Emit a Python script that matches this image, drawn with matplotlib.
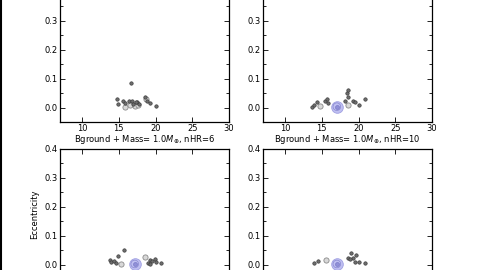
import matplotlib
matplotlib.use("Agg")
import matplotlib.pyplot as plt
from matplotlib.ticker import MultipleLocator
from matplotlib.lines import Line2D

# ---- data (x position, eccentricity) ----
tl_x = [14.7, 14.9, 15.6, 16.35, 16.6, 16.75, 16.95, 17.5, 17.8, 18.6, 18.9, 19.3, 20.0, 15.9, 17.3]
tl_e = [0.030, 0.013, 0.024, 0.021, 0.085, 0.022, 0.012, 0.018, 0.013, 0.035, 0.022, 0.016, 0.007, 0.016, 0.020]
tl_open_x = [15.8, 16.5, 17.2, 17.6, 18.7]
tl_open_e = [0.003, 0.010, 0.006, 0.009, 0.030]

tr_x = [13.64, 14.0, 14.4, 15.5, 15.8, 15.7, 18.2, 18.4, 18.6, 18.5, 19.3, 19.5, 20.0, 20.9]
tr_e = [0.003, 0.010, 0.018, 0.022, 0.017, 0.030, 0.024, 0.050, 0.060, 0.038, 0.024, 0.020, 0.008, 0.030]
tr_open_x = [14.8, 18.6]
tr_open_e = [0.007, 0.010]
tr_planet_x = [17.05]
tr_planet_e = [0.003]

bl_x = [15.66, 13.8, 14.0, 14.4, 14.9, 14.6, 19.0, 19.2, 19.5, 19.9, 20.1, 20.8, 19.3]
bl_e = [0.051, 0.017, 0.010, 0.012, 0.031, 0.006, 0.007, 0.017, 0.012, 0.020, 0.010, 0.005, 0.003]
bl_open_x = [15.3, 18.5]
bl_open_e = [0.002, 0.025]
bl_planet_x = [17.17]
bl_planet_e = [0.002]

br_x = [14.0, 14.45, 18.5, 18.95, 19.7, 19.3, 19.5, 20.0, 20.9, 18.8]
br_e = [0.006, 0.012, 0.022, 0.040, 0.033, 0.022, 0.008, 0.010, 0.006, 0.020]
br_open_x = [15.6]
br_open_e = [0.015]
br_planet_x = [17.05]
br_planet_e = [0.002]

xticks = [10, 15, 20, 25, 30]
yticks = [0.0, 0.1, 0.2, 0.3, 0.4]
ytick_labels = ["0.0", "0.1", "0.2", "0.3", "0.4"]
titles = ["Bground + Mass= 1.0$M_{\\oplus}$, nHR=6",
          "Bground + Mass= 1.0$M_{\\oplus}$, nHR=10"]

plt.rcParams['font.family'] = ['DejaVu Sans']
plt.rcParams['font.size'] = 6
plt.rcParams['mathtext.fontset'] = 'dejavusans'

fig = plt.figure(figsize=(4.8, 2.7), dpi=100)
W, H = 480.0, 270.0


def make_ax(left_px, top_px, width_px=169, height_px=130):
    return fig.add_axes([left_px / W, (H - top_px - height_px) / H,
                         width_px / W, height_px / H])


def style(ax, top_row):
    ax.set_xlim(7, 30)
    ax.set_ylim(-0.05, 0.4)
    ax.set_xticks(xticks)
    ax.set_yticks(yticks)
    if top_row:
        # the 0.4 label lies above the visible frame
        ax.set_yticklabels(ytick_labels[:-1] + [""])
    ax.yaxis.set_minor_locator(MultipleLocator(0.05))
    ax.tick_params(which='both', direction='in', top=True, right=True,
                   labelsize=6, pad=1.5, width=0.6)
    ax.tick_params(which='major', length=3.5)
    ax.tick_params(which='minor', length=2.5)
    if not top_row:
        # x tick labels of the lower row fall below the visible frame
        ax.tick_params(axis='x', labelbottom=False)
    for s in ax.spines.values():
        s.set_linewidth(0.9)


def draw(ax, x, e, ox, oe, px=None, pe=None):
    ax.scatter(ox, oe, s=14, facecolor='#d8d8d8', edgecolor='#8a8a8a',
               linewidth=0.6, zorder=3)
    ax.scatter(x, e, s=6, facecolor='#6e6e6e', edgecolor='#3c3c3c',
               linewidth=0.5, zorder=4)
    if px is not None:
        ax.scatter(px, pe, s=70, facecolor='#b8b8f0', edgecolor='#9a9ae0',
                   linewidth=0.6, alpha=0.9, zorder=5)
        ax.scatter(px, pe, s=30, facecolor='none', edgecolor='#8888d0',
                   linewidth=0.5, zorder=6)
        ax.scatter(px, pe, s=8, facecolor='#9090d8', edgecolor='#7070c0',
                   linewidth=0.4, zorder=6)


ax_tl = make_ax(60, -8)
ax_tr = make_ax(263, -8)
ax_bl = make_ax(60, 149)
ax_br = make_ax(263, 149)

style(ax_tl, True)
style(ax_tr, True)
style(ax_bl, False)
style(ax_br, False)

draw(ax_tl, tl_x, tl_e, tl_open_x, tl_open_e)
draw(ax_tr, tr_x, tr_e, tr_open_x, tr_open_e, tr_planet_x, tr_planet_e)
draw(ax_bl, bl_x, bl_e, bl_open_x, bl_open_e, bl_planet_x, bl_planet_e)
draw(ax_br, br_x, br_e, br_open_x, br_open_e, br_planet_x, br_planet_e)

ax_bl.set_title(titles[0], fontsize=6, pad=5)
ax_br.set_title(titles[1], fontsize=6, pad=5)
ax_bl.set_ylabel("Eccentricity", fontsize=6, labelpad=4)

# black strip on left edge of the frame
fig.add_artist(Line2D([0.002, 0.002], [0, 1], transform=fig.transFigure,
                      color='black', linewidth=1.5))

fig.savefig("out.png", dpi=100)
